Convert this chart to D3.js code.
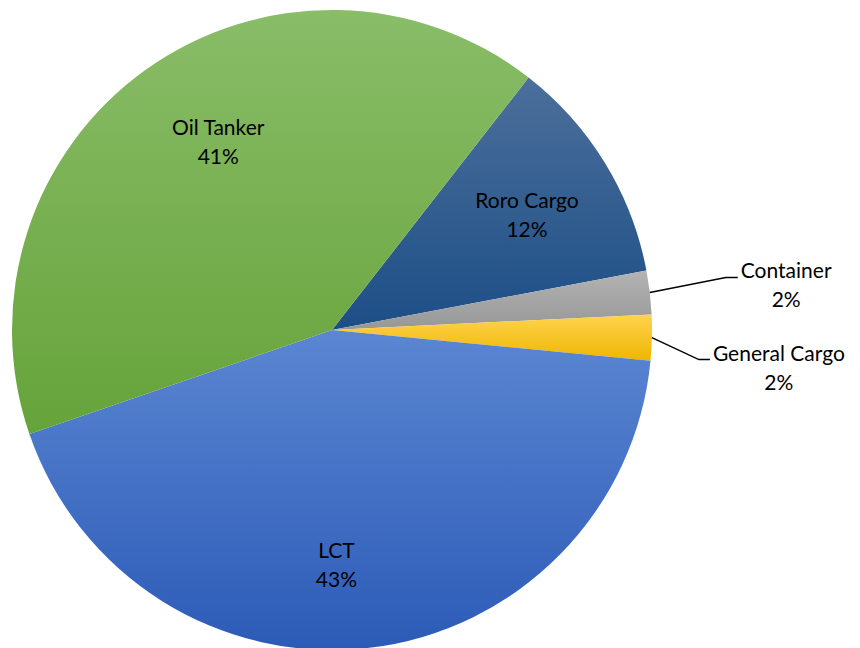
<!DOCTYPE html>
<html>
<head>
<meta charset="utf-8">
<script src="https://cdn.jsdelivr.net/npm/d3@7"></script>
<style>
html,body{margin:0;padding:0;background:#fff;}
#pie{width:860px;height:648px;}
</style>
</head>
<body>
<div id="pie"></div>
<script>
(function(){

// data (clockwise, starting after Oil Tanker)
const categories = ["Roro Cargo","Container","General Cargo","LCT","Oil Tanker"];
const shares = [11.5, 2.2, 2.3, 43.2, 40.8];
const pctLabels = ["12%","2%","2%","43%","41%"];
const colorTop = ["#4c6f9b","#b3b3b3","#ffd34f","#5b86d2","#89bd68"];
const colorBottom = ["#1c4e86","#979797","#efb600","#2c5bb7","#66a33a"];

const width = 860;
const height = 648;
const cx = 332, cy = 330, r = 320;

const svg = d3.select("#pie")
.append("svg")
.attr("width",width)
.attr("height",height)
.attr("viewBox",`0 0 ${width} ${height}`);

const data = categories.map((c,i)=>({name:c,value:shares[i],pct:pctLabels[i],i:i}));

const defs = svg.append("defs");
data.forEach(d=>{
const g = defs.append("linearGradient")
.attr("id","grad"+d.i)
.attr("x1",0).attr("y1",0).attr("x2",0).attr("y2",1);
g.append("stop").attr("offset","0%").attr("stop-color",colorTop[d.i]);
g.append("stop").attr("offset","100%").attr("stop-color",colorBottom[d.i]);
});

const start = 37.9*Math.PI/180;
const pie = d3.pie()
.sort(null)
.value(d=>d.value)
.startAngle(start)
.endAngle(start+2*Math.PI);

const arc = d3.arc().innerRadius(0).outerRadius(r);
const labelArc = d3.arc().innerRadius(225).outerRadius(225);

const g = svg.append("g").attr("transform",`translate(${cx},${cy})`);
const arcs = pie(data);

g.selectAll("path")
.data(arcs)
.enter()
.append("path")
.attr("d",arc)
.attr("fill",d=>`url(#grad${d.data.i})`);

const font = "Lato, 'Open Sans', sans-serif";
const fs = "21px";

// labels inside the big slices (small nudges like Excel's best fit)
const insideNudge = {
"Roro Cargo":[3,2],
"LCT":[-22,12],
"Oil Tanker":[17,-5]
};
arcs.filter(d=>d.data.value>5).forEach(d=>{
const [x0,y0] = labelArc.centroid(d);
const n = insideNudge[d.data.name];
const x = x0+n[0], y = y0+n[1];
const t = g.append("text")
.attr("text-anchor","middle")
.attr("font-family",font)
.attr("font-size",fs)
.attr("fill","#000");
t.append("tspan").attr("x",x).attr("y",y-7).text(d.data.name);
t.append("tspan").attr("x",x).attr("y",y+22).text(d.data.pct);
});

// small slices: leader lines to labels on the right
const outsideLayout = {
"Container":{dy:-15,elbow:76,end:88},
"General Cargo":{dy:22,elbow:47,end:58}
};
arcs.filter(d=>d.data.value<=5).forEach(d=>{
const L = outsideLayout[d.data.name];
const a = (d.startAngle+d.endAngle)/2;
const px = Math.sin(a)*r, py = -Math.cos(a)*r;
const ey = py+L.dy;
g.append("polyline")
.attr("points",`${px},${py} ${px+L.elbow},${ey} ${px+L.end},${ey}`)
.attr("fill","none")
.attr("stroke","#000")
.attr("stroke-width",1.5);
const tx = px+L.end+3;
const t = g.append("text")
.attr("font-family",font)
.attr("font-size",fs)
.attr("fill","#000");
t.append("tspan").attr("x",tx).attr("y",ey+1).text(d.data.name);
const w = t.node().getComputedTextLength();
g.append("text")
.attr("x",tx+w/2)
.attr("y",ey+30)
.attr("text-anchor","middle")
.attr("font-family",font)
.attr("font-size",fs)
.attr("fill","#000")
.text(d.data.pct);
});

})();
</script>
</body>
</html>
